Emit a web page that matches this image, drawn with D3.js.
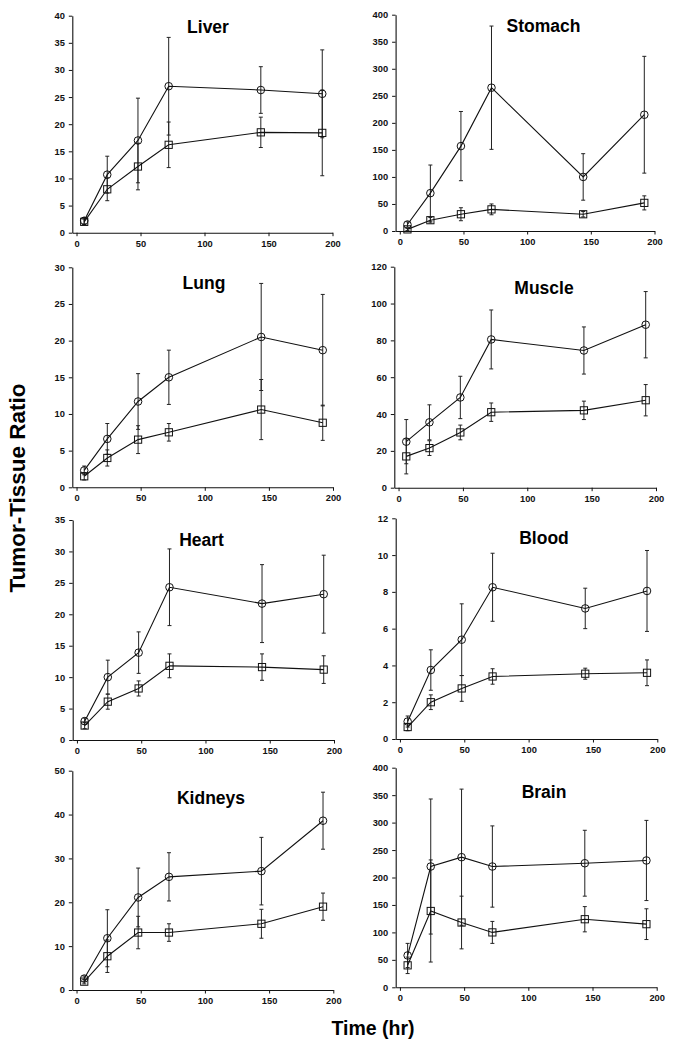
<!DOCTYPE html>
<html><head><meta charset="utf-8">
<script src="https://cdn.jsdelivr.net/npm/d3@7/dist/d3.min.js"></script>
<style>
body{margin:0;background:#fff;}
svg{display:block;}
text{font-family:"Liberation Sans",Arial,Helvetica,sans-serif;}
</style></head><body>
<svg id="chart" width="677" height="1050"></svg>
<script>
const times = [6, 24, 48, 72, 144, 192];
const organs = ["Liver", "Stomach", "Lung", "Muscle", "Heart", "Blood", "Kidneys", "Brain"];
const yMax = [40, 400, 30, 120, 35, 12, 50, 400];
const yStep = [5, 50, 5, 20, 5, 2, 10, 50];
const xTicks = [0, 50, 100, 150, 200];
const circleMean = [
  [2.2, 10.7, 17, 27, 26.3, 25.6],
  [12, 70, 157, 265, 100, 215],
  [2.3, 6.6, 11.7, 15, 20.5, 18.7],
  [25, 35.5, 49, 80.5, 74.5, 88.5],
  [3.0, 10, 13.9, 24.3, 21.7, 23.2],
  [0.95, 3.75, 5.4, 8.25, 7.1, 8.05],
  [2.6, 11.8, 21.1, 25.8, 27.1, 38.6],
  [58, 220, 237, 220, 226, 231]
];
const circleErr = [
  [0.6, 3.4, 7.8, 9, 4.3, 8.1],
  [5, 52, 64, 114, 43, 108],
  [0.6, 2.1, 3.8, 3.7, 7.3, 7.6],
  [12, 9.5, 11.5, 16, 12.8, 18],
  [0.5, 2.7, 3.3, 6.1, 6.2, 6.2],
  [0.3, 1.1, 1.95, 1.85, 1.1, 2.2],
  [0.6, 6.5, 6.7, 5.5, 7.7, 6.5],
  [22, 123, 124, 74, 60, 73]
];
const squareMean = [
  [2.0, 8.0, 12.2, 16.2, 18.5, 18.4],
  [3, 20, 31, 40, 31, 52],
  [1.5, 4, 6.5, 7.5, 10.6, 8.8],
  [17, 21.5, 30, 41, 42, 47.5],
  [2.3, 6.1, 8.2, 11.8, 11.6, 11.2],
  [0.65, 2.0, 2.75, 3.4, 3.55, 3.6],
  [1.9, 7.7, 13.1, 13.1, 15.1, 19],
  [40, 139, 118, 100, 124, 115]
];
const squareErr = [
  [0.5, 2.1, 4.3, 4.2, 2.8, 7.9],
  [2, 5, 12, 10, 5, 13],
  [0.5, 1.1, 1.9, 1.2, 4.1, 2.4],
  [9.5, 4, 4, 5, 5, 8.5],
  [0.5, 1.2, 1.2, 1.9, 2.1, 2.2],
  [0.2, 0.4, 0.7, 0.42, 0.3, 0.7],
  [0.5, 3.7, 3.7, 2, 3.3, 3.1],
  [15, 93, 48, 20, 23, 28]
];

// layout: per panel axis geometry
const geo = [
  {x0:72.3, x1:332.5, y0:232.7, y1:15.7, tx:208, ty:33.3},
  {x0:395.6, x1:654.5, y0:231, y1:14.7, tx:543.5, ty:31.7},
  {x0:72.3, x1:333, y0:487.3, y1:267.3, tx:204, ty:289.3},
  {x0:394.3, x1:656, y0:487.7, y1:266.7, tx:544, ty:294},
  {x0:72.7, x1:334, y0:740, y1:520, tx:201.5, ty:546},
  {x0:395.7, x1:657.3, y0:739, y1:518.3, tx:544, ty:544.3},
  {x0:72.3, x1:333.3, y0:990, y1:770.7, tx:211, ty:804.3},
  {x0:395.7, x1:656.7, y0:987.3, y1:767.7, tx:544, ty:798.3}
];

const svg = d3.select("#chart");
const ink = "#111";

organs.forEach((name, i) => {
  const g = geo[i];
  const x = d3.scaleLinear().domain([-3.3, 200]).range([g.x0, g.x1]);
  const y = d3.scaleLinear().domain([0, yMax[i]]).range([g.y0, g.y1]);
  const p = svg.append("g");

  const yt = d3.range(0, yMax[i] + yStep[i] / 2, yStep[i]);
  const ax = p.append("g").attr("transform", `translate(0,${g.y0})`)
    .call(d3.axisBottom(x).tickValues(xTicks).tickSize(3.5).tickSizeOuter(0).tickPadding(4).tickFormat(d3.format("d")));
  const ay = p.append("g").attr("transform", `translate(${g.x0},0)`)
    .call(d3.axisLeft(y).tickValues(yt).tickSize(3.5).tickSizeOuter(0).tickPadding(4).tickFormat(d3.format("d")));
  [ax, ay].forEach(a => {
    a.select(".domain").attr("stroke", ink).attr("stroke-width", 1.1);
    a.selectAll(".tick line").attr("stroke", ink).attr("stroke-width", 1);
    a.selectAll(".tick text").attr("fill", ink).style("font-size", "9.3px").style("font-weight", "bold")
      .style("font-family", "'Liberation Sans', Arial, sans-serif");
  });

  p.append("text").attr("x", g.tx).attr("y", g.ty).attr("text-anchor", "middle")
    .style("font-size", "17.5px").style("font-weight", "bold").attr("fill", "#000").text(name);

  const series = [
    {m: circleMean[i], e: circleErr[i], shape: "circle"},
    {m: squareMean[i], e: squareErr[i], shape: "square"}
  ];
  const line = d3.line().x((d, k) => x(times[k])).y(d => y(d));
  series.forEach(s => {
    const eb = p.append("g").attr("stroke", "#222").attr("stroke-width", 1);
    s.m.forEach((v, k) => {
      const cx = x(times[k]);
      const top = y(v + s.e[k]), bot = y(Math.max(0, v - s.e[k]));
      eb.append("line").attr("x1", cx).attr("x2", cx).attr("y1", top).attr("y2", bot);
      eb.append("line").attr("x1", cx - 2).attr("x2", cx + 2).attr("y1", top).attr("y2", top);
      eb.append("line").attr("x1", cx - 2).attr("x2", cx + 2).attr("y1", bot).attr("y2", bot);
    });
  });
  series.forEach(s => {
    p.append("path").datum(s.m).attr("d", line).attr("fill", "none").attr("stroke", ink).attr("stroke-width", 1.1);
  });
  series.forEach(s => {
    const mk = p.append("g");
    s.m.forEach((v, k) => {
      const cx = x(times[k]), cy = y(v);
      if (s.shape === "circle") {
        mk.append("circle").attr("cx", cx).attr("cy", cy).attr("r", 3.8)
          .attr("fill", "none").attr("stroke", ink).attr("stroke-width", 1);
      } else {
        mk.append("rect").attr("x", cx - 3.6).attr("y", cy - 3.6).attr("width", 7.2).attr("height", 7.2)
          .attr("fill", "none").attr("stroke", ink).attr("stroke-width", 1);
      }
    });
  });
});

svg.append("text").attr("transform", "translate(25,488) rotate(-90)").attr("text-anchor", "middle")
  .style("font-size", "22.5px").style("font-weight", "bold").attr("fill", "#000").text("Tumor-Tissue Ratio");
svg.append("text").attr("x", 373).attr("y", 1035).attr("text-anchor", "middle")
  .style("font-size", "19.5px").style("font-weight", "bold").attr("fill", "#000").text("Time (hr)");
</script>
</body></html>
